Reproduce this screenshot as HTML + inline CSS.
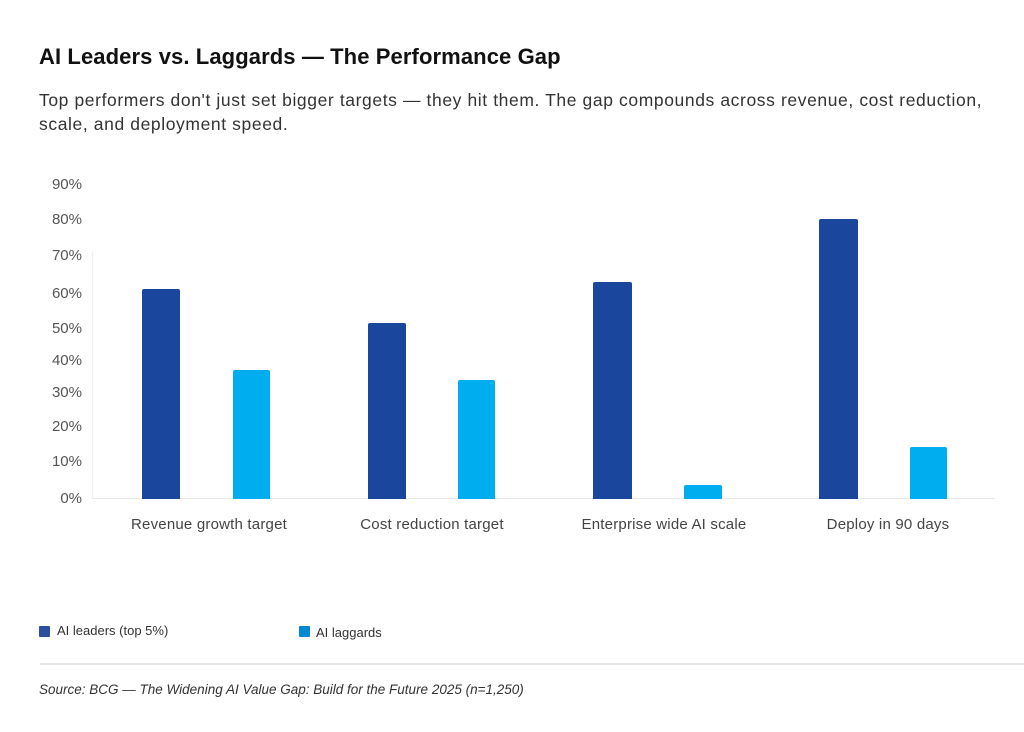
<!DOCTYPE html>
<html><head><style>
body{margin:0;background:#fff;width:1024px;height:732px;position:relative;font-family:"Liberation Sans",sans-serif;overflow:hidden}
.a{position:absolute;white-space:nowrap}
.y{position:absolute;left:40px;width:42px;text-align:right;font-size:15px;color:#555}
.b{position:absolute;border-radius:2px 2px 0 0}
.d{background:#1a479d}.l{background:#00adee}
.x{position:absolute;top:516px;font-size:15px;color:#444;text-align:center;width:220px;letter-spacing:0.2px}
</style></head><body>
<div class="a" style="left:39px;top:44px;font-size:22px;font-weight:bold;color:#111;letter-spacing:0.1px">AI Leaders vs. Laggards — The Performance Gap</div>
<div class="a" style="left:39px;top:88px;font-size:17.5px;color:#333;line-height:24px;white-space:normal;width:955px;letter-spacing:0.6px">Top performers don't just set bigger targets — they hit them. The gap compounds across revenue, cost reduction, scale, and deployment speed.</div>
<div class="y" style="top:176px">90%</div>
<div class="y" style="top:211px">80%</div>
<div class="y" style="top:247px">70%</div>
<div class="y" style="top:285px">60%</div>
<div class="y" style="top:320px">50%</div>
<div class="y" style="top:352px">40%</div>
<div class="y" style="top:384px">30%</div>
<div class="y" style="top:418px">20%</div>
<div class="y" style="top:453px">10%</div>
<div class="y" style="top:490px">0%</div>
<div class="a" style="left:92px;top:252px;width:1px;height:247px;background:#eee"></div>
<div class="a" style="left:92px;top:498px;width:903px;height:1px;background:#e8e8e8"></div>
<div class="b d" style="left:142px;top:289px;width:38px;height:210px"></div>
<div class="b l" style="left:233px;top:370px;width:37px;height:129px"></div>
<div class="b d" style="left:368px;top:323px;width:38px;height:176px"></div>
<div class="b l" style="left:458px;top:380px;width:37px;height:119px"></div>
<div class="b d" style="left:593px;top:282px;width:39px;height:217px"></div>
<div class="b l" style="left:684px;top:485px;width:38px;height:14px"></div>
<div class="b d" style="left:819px;top:219px;width:39px;height:280px"></div>
<div class="b l" style="left:910px;top:447px;width:37px;height:52px"></div>
<div class="x" style="left:99px">Revenue growth target</div>
<div class="x" style="left:322px">Cost reduction target</div>
<div class="x" style="left:554px">Enterprise wide AI scale</div>
<div class="x" style="left:778px">Deploy in 90 days</div>
<div class="a" style="left:39px;top:626px;width:11px;height:11px;background:#2c4f9e;border-radius:1px"></div>
<div class="a" style="left:57px;top:623px;font-size:13px;color:#333">AI leaders (top 5%)</div>
<div class="a" style="left:299px;top:626px;width:11px;height:11px;background:#0088d1;border-radius:1px"></div>
<div class="a" style="left:316px;top:625px;font-size:13px;color:#333">AI laggards</div>
<div class="a" style="left:40px;top:663px;width:984px;height:2px;background:#e6e6e6"></div>
<div class="a" style="left:39px;top:682px;font-size:13.5px;font-style:italic;color:#333">Source: BCG — The Widening AI Value Gap: Build for the Future 2025 (n=1,250)</div>
</body></html>
